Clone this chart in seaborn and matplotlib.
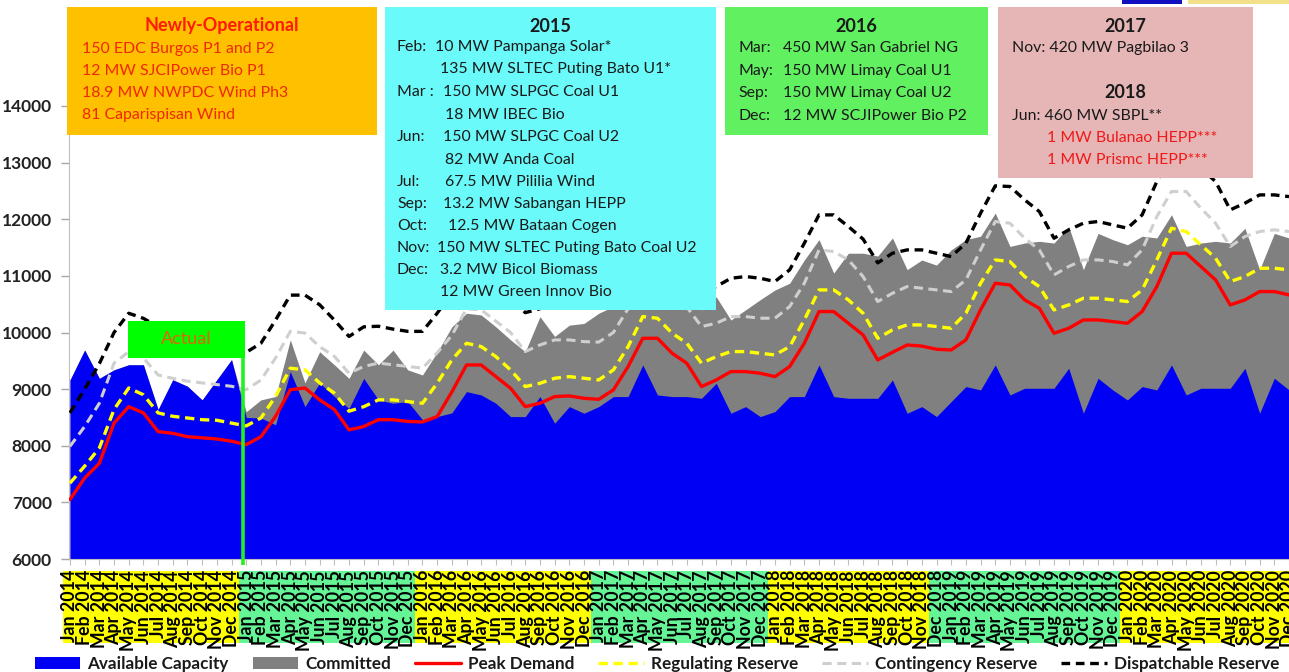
import matplotlib
matplotlib.use("Agg")
import matplotlib.pyplot as plt
import matplotlib.transforms as mtransforms
from matplotlib.patches import Rectangle, Patch
from matplotlib.lines import Line2D
import numpy as np
import pandas as pd
import seaborn as sns

# ---------------- data ----------------
years = [2014, 2015, 2016, 2017, 2018, 2019, 2020]
month_names = ["Jan", "Feb", "Mar", "Apr", "May", "Jun",
               "Jul", "Aug", "Sep", "Oct", "Nov", "Dec"]
month_labels = [f"{m} {y}" for y in years for m in month_names]

available_capacity = [
    9160, 9690, 9190, 9340, 9430, 9430, 8640, 9165, 9050, 8810, 9165, 9520,
    8500, 8490, 8370, 9310, 8690, 9110, 8870, 8660, 9190, 8810, 8750, 8780,
    8460, 8515, 8580, 8956, 8897, 8750, 8515, 8515, 8868, 8397, 8691, 8574,
    8691, 8868, 8868, 9427, 8897, 8868, 8868, 8838, 9103, 8574, 8691, 8515,
    8603, 8868, 8868, 9427, 8868, 8838, 8838, 8838, 9162, 8574, 8691, 8515,
    8780, 9045, 8986, 9427, 8897, 9015, 9015, 9015, 9368, 8574, 9192, 8986,
    8809, 9045, 8986, 9427, 8897, 9015, 9015, 9015, 9368, 8574, 9192, 8986,
]
# top of the stacked "Committed" area (available + committed)
available_plus_committed = [
    9160, 9690, 9190, 9340, 9430, 9430, 8640, 9165, 9050, 8810, 9165, 9520,
    8600, 8810, 8870, 9870, 9110, 9660, 9430, 9190, 9690, 9430, 9690, 9340,
    9250, 9650, 10100, 10340, 10310, 10100, 9870, 9660, 10280, 9930, 10130, 10160,
    10340, 10460, 10600, 10900, 10900, 10700, 10500, 10400, 10630, 10220, 10400, 10580,
    10750, 10870, 11280, 11640, 11050, 11400, 11400, 11350, 11670, 11110, 11280, 11190,
    11460, 11640, 11700, 12110, 11520, 11580, 11610, 11580, 11870, 11110, 11750, 11640,
    11550, 11700, 11670, 12080, 11520, 11580, 11610, 11580, 11840, 11110, 11750, 11670,
]
peak_demand = [
    7050, 7430, 7690, 8400, 8690, 8580, 8250, 8220, 8160, 8140, 8120, 8080,
    8020, 8160, 8520, 8990, 9020, 8810, 8640, 8280, 8340, 8460, 8460, 8430,
    8420, 8515, 8950, 9427, 9427, 9221, 9015, 8691, 8750, 8868, 8880, 8838,
    8820, 8986, 9398, 9898, 9898, 9633, 9457, 9045, 9162, 9310, 9310, 9280,
    9221, 9398, 9810, 10370, 10370, 10163, 9957, 9516, 9650, 9780, 9760, 9704,
    9692, 9869, 10400, 10870, 10840, 10576, 10428, 9987, 10075, 10222, 10222, 10193,
    10163, 10370, 10811, 11400, 11400, 11165, 10929, 10487, 10576, 10723, 10723, 10664,
]
regulating_reserve = [
    7340, 7640, 7960, 8640, 9020, 8900, 8580, 8520, 8490, 8460, 8450, 8400,
    8350, 8490, 8870, 9370, 9340, 9110, 8930, 8610, 8690, 8810, 8810, 8780,
    8750, 9103, 9516, 9810, 9751, 9574, 9339, 9045, 9103, 9192, 9221, 9192,
    9162, 9339, 9751, 10281, 10252, 9987, 9810, 9457, 9574, 9663, 9663, 9633,
    9604, 9751, 10222, 10752, 10752, 10576, 10340, 9898, 10046, 10134, 10134, 10105,
    10075, 10340, 10870, 11282, 11253, 10988, 10811, 10399, 10487, 10605, 10605, 10576,
    10546, 10752, 11282, 11842, 11783, 11547, 11312, 10900, 10988, 11135, 11135, 11106,
]
contingency_reserve = [
    7990, 8340, 8750, 9460, 9660, 9550, 9250, 9190, 9140, 9110, 9080, 9050,
    8990, 9160, 9550, 10020, 9990, 9750, 9580, 9280, 9400, 9460, 9430, 9400,
    9370, 9640, 9950, 10420, 10400, 10200, 10000, 9663, 9780, 9869, 9869, 9839,
    9830, 10000, 10420, 10930, 10900, 10650, 10450, 10105, 10163, 10281, 10281, 10252,
    10252, 10458, 10870, 11459, 11430, 11282, 10988, 10546, 10693, 10811, 10782, 10752,
    10723, 10929, 11459, 11960, 11930, 11665, 11459, 11017, 11165, 11282, 11282, 11253,
    11194, 11459, 12048, 12490, 12490, 12195, 11930, 11518, 11695, 11783, 11813, 11783,
]
dispatchable_reserve = [
    8580, 9000, 9450, 10000, 10340, 10250, 10100, 9950, 9900, 9850, 9800, 9700,
    9650, 9810, 10220, 10660, 10660, 10490, 10220, 9930, 10100, 10110, 10060, 10020,
    10020, 10340, 10700, 11100, 11100, 10900, 10650, 10350, 10420, 10550, 10560, 10520,
    10500, 10680, 11100, 11580, 11580, 11300, 11100, 10700, 10811, 10958, 10988, 10958,
    10900, 11106, 11577, 12077, 12077, 11871, 11650, 11230, 11400, 11459, 11459, 11400,
    11341, 11577, 12107, 12590, 12578, 12343, 12136, 11665, 11812, 11930, 11960, 11900,
    11842, 12077, 12666, 13150, 13150, 12900, 12666, 12166, 12284, 12430, 12430, 12400,
]
y_ticks = [6000, 7000, 8000, 9000, 10000, 11000, 12000, 13000, 14000]
# label highlight groups: (first index, last index, colour)
label_bands = [(0, 11, "#FFFF00"), (12, 23, "#66F596"), (24, 35, "#FFFF00"),
               (36, 47, "#66F596"), (48, 58, "#FFFF00"), (59, 71, "#66F596"),
               (72, 83, "#FFFF00")]

df = pd.DataFrame({
    "idx": np.arange(len(month_labels)),
    "month": month_labels,
    "available": available_capacity,
    "committed_top": available_plus_committed,
    "peak": peak_demand,
    "regulating": regulating_reserve,
    "contingency": contingency_reserve,
    "dispatchable": dispatchable_reserve,
})

# ---------------- style ----------------
sns.set_style("white")
plt.rcParams["font.family"] = ["Lato", "DejaVu Sans"]

W, H = 1289, 672
fig = plt.figure(figsize=(W / 100, H / 100), dpi=100)
ax_left = 68.5
ax = fig.add_axes([ax_left / W, 1 - 559 / H, (W - ax_left) / W, 453 / H])


def fx(x):
    return x / W


def fy(y):
    return 1 - y / H


# areas
ax.fill_between(df["idx"], 6000, df["committed_top"], color="#808080", lw=0, zorder=1)
ax.fill_between(df["idx"], 6000, df["available"], color="#0000F5", lw=0, zorder=1.1)

# lines
sns.lineplot(data=df, x="idx", y="peak", ax=ax, color="#FF0000", lw=2.4,
             legend=False, zorder=3)
sns.lineplot(data=df, x="idx", y="regulating", ax=ax, color="#FFFF00", lw=2.4,
             linestyle=(0, (2.8, 1.7)), legend=False, zorder=3)
sns.lineplot(data=df, x="idx", y="contingency", ax=ax, color="#CFCFCF", lw=2.2,
             linestyle=(0, (3.0, 1.8)), legend=False, zorder=3)
sns.lineplot(data=df, x="idx", y="dispatchable", ax=ax, color="#000000", lw=2.4,
             linestyle=(0, (2.6, 1.7)), legend=False, zorder=3)

ax.set_xlim(-0.1, 82.93)
ax.set_ylim(6000, 14000)
ax.set_xlabel("")
ax.set_ylabel("")

ax.set_yticks(y_ticks)
ax.set_yticklabels([str(v) for v in y_ticks], fontsize=12.5, fontweight="bold",
                   color="#222222")
ax.set_xticks(df["idx"])
ax.set_xticklabels(month_labels, rotation=90, fontsize=12.8, fontweight="bold",
                   color="#000000")
ax.tick_params(axis="y", which="major", left=True, length=6, width=1,
               color="#A6A6A6", pad=6)
ax.tick_params(axis="x", which="major", bottom=True, length=4, width=0.8,
               color="#BFBFBF", pad=4)
for s in ["top", "right"]:
    ax.spines[s].set_visible(False)
ax.spines["left"].set_color("#BFBFBF")
ax.spines["bottom"].set_color("#BFBFBF")
ax.grid(False)

# label highlight bands
blend = mtransforms.blended_transform_factory(ax.transData, ax.transAxes)
y0 = -(643 - 559) / 453
y1 = -(571 - 559) / 453
for a, b, c in label_bands:
    ax.add_patch(Rectangle((a - 0.5, y0), b - a + 1, y1 - y0, transform=blend,
                           facecolor=c, edgecolor="none", clip_on=False, zorder=0))

# "Actual" marker
ax.plot([11.75, 11.75], [10200, 5890], color="#22F022", lw=2.6, zorder=6,
        clip_on=False, solid_capstyle="butt")
ax.add_patch(Rectangle((3.95, 9550), 11.95 - 3.95, 10205 - 9550,
                       facecolor="#00FF00", edgecolor="none", zorder=6))
ax.text((3.95 + 11.95) / 2, (9550 + 10205) / 2, "Actual", ha="center",
        va="center", fontsize=13, color="#E8600A", zorder=7)

# ---------------- annotation boxes ----------------
BODY = 11.4
TITLE = 13


def fbox(x0, y0, x1, y1, color):
    fig.add_artist(Rectangle((fx(x0), fy(y1)), fx(x1) - fx(x0), fy(y0) - fy(y1),
                             transform=fig.transFigure, facecolor=color,
                             edgecolor="none", zorder=5))


def ftext(x, y, s, ha="left", color="#1A1A1A", size=BODY, weight="normal"):
    fig.text(fx(x), fy(y), s, ha=ha, va="center", fontsize=size, color=color,
             fontweight=weight, zorder=6)


# tiny cut-off items at the top right
fbox(1122, 0, 1182, 4, "#1010C0")
fbox(1188, 0, 1289, 4, "#F2E08A")

# Newly-operational
fbox(67, 7, 377, 135, "#FFC000")
ftext(222, 26, "Newly-Operational", ha="center", color="#FF1A00", size=TITLE,
      weight="bold")
for yy, s in zip([49, 71, 93, 115],
                 ["150 EDC Burgos P1 and P2", "12 MW SJCIPower Bio P1",
                  "18.9 MW NWPDC Wind Ph3", "81 Caparispisan Wind"]):
    ftext(82, yy, s, color="#F02800")

# 2015
fbox(385, 7, 716, 310, "#6AFAFA")
ftext(550, 27, "2015", ha="center", size=TITLE, weight="bold")
rows_2015 = [
    ("Feb:", 435, 47, "10 MW Pampanga Solar*"),
    ("", 440, 69, "135 MW SLTEC Puting Bato U1*"),
    ("Mar :", 443, 92, "150 MW SLPGC Coal U1"),
    ("", 445, 115, "18 MW IBEC Bio"),
    ("Jun:", 443, 137, "150 MW SLPGC Coal U2"),
    ("", 445, 160, "82 MW Anda Coal"),
    ("Jul:", 445, 182, "67.5 MW Pililia Wind"),
    ("Sep:", 443, 204, "13.2 MW Sabangan HEPP"),
    ("Oct:", 448, 226, "12.5 MW Bataan Cogen"),
    ("Nov:", 437, 248, "150 MW SLTEC Puting Bato Coal U2"),
    ("Dec:", 440, 270, "3.2 MW Bicol Biomass"),
    ("", 440, 292, "12 MW Green Innov Bio"),
]
for mon, xx, yy, s in rows_2015:
    if mon:
        ftext(397, yy, mon)
    ftext(xx, yy, s)

# 2016
fbox(725, 7, 988, 135, "#60F060")
ftext(856, 27, "2016", ha="center", size=TITLE, weight="bold")
for mon, yy, s in [("Mar:", 48, "450 MW San Gabriel NG"),
                   ("May:", 71, "150 MW Limay Coal U1"),
                   ("Sep:", 93, "150 MW Limay Coal U2"),
                   ("Dec:", 116, "12 MW SCJIPower Bio P2")]:
    ftext(738, yy, mon)
    ftext(783, yy, s)

# 2017 / 2018
fbox(998, 7, 1253, 178, "#E6B6B6")
ftext(1125, 27, "2017", ha="center", size=TITLE, weight="bold")
ftext(1012, 48, "Nov: 420 MW Pagbilao 3")
ftext(1125, 92, "2018", ha="center", size=TITLE, weight="bold")
ftext(1012, 116, "Jun: 460 MW SBPL**")
ftext(1047, 138, "1 MW Bulanao HEPP***", color="#F01818")
ftext(1047, 160, "1 MW Prismc HEPP***", color="#F01818")

# ---------------- legend ----------------
handles = [
    Patch(facecolor="#0000F5", edgecolor="none", label="Available Capacity"),
    Patch(facecolor="#808080", edgecolor="none", label="Committed"),
    Line2D([], [], color="#FF0000", lw=2.4, label="Peak Demand"),
    Line2D([], [], color="#FFFF00", lw=2.4, linestyle=(0, (2.8, 1.7)),
           label="Regulating Reserve"),
    Line2D([], [], color="#CFCFCF", lw=2.2, linestyle=(0, (3.0, 1.8)),
           label="Contingency Reserve"),
    Line2D([], [], color="#000000", lw=2.4, linestyle=(0, (2.6, 1.7)),
           label="Dispatchable Reserve"),
]
leg = fig.legend(handles=handles, loc="center left",
                 bbox_to_anchor=(fx(35), fy(664)), ncol=6, frameon=False,
                 prop={"size": 12.3, "weight": "bold"}, handlelength=2.65,
                 handleheight=0.7, handletextpad=0.42, columnspacing=1.42,
                 borderpad=0, borderaxespad=0)
for t in leg.get_texts():
    t.set_color("#1A1A1A")

fig.savefig("out.png", dpi=100)
